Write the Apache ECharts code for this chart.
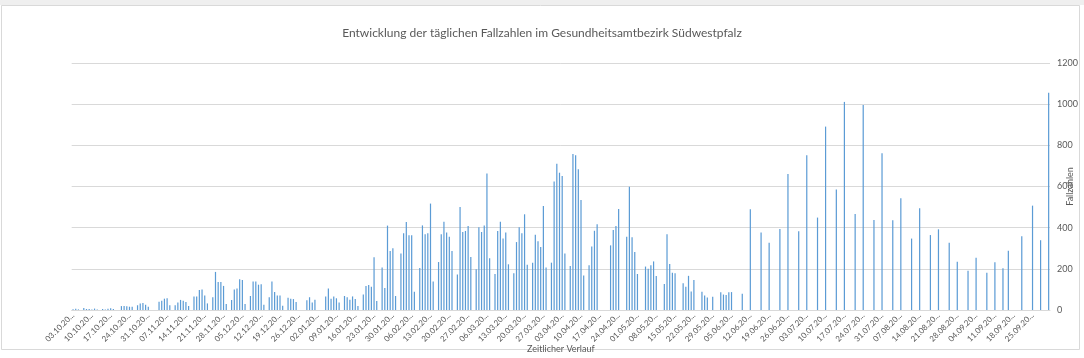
<!DOCTYPE html>
<html>
<head>
<meta charset="utf-8">
<script src="https://cdn.jsdelivr.net/npm/echarts@6/dist/echarts.min.js"></script>
<style>
html,body{margin:0;padding:0;background:#fff;}
#chart{width:1084px;height:358px;}
</style>
</head>
<body>
<div id="chart"></div>
<script>
// Chart texts
const titleText = 'Entwicklung der täglichen Fallzahlen im Gesundheitsamtbezirk Südwestpfalz';
const xAxisName = 'Zeitlicher Verlauf';
const yAxisName = 'Fallzahlen';

// Categories: one per day, starting 03.10.2020 (364 days)
const startDate = [2020, 10, 3];
const dayCount = 364;
const categories = [];
(function () {
  const d = new Date(Date.UTC(startDate[0], startDate[1] - 1, startDate[2]));
  for (let i = 0; i < dayCount; i++) {
    const dd = String(d.getUTCDate()).padStart(2, '0');
    const mm = String(d.getUTCMonth() + 1).padStart(2, '0');
    categories.push(dd + '.' + mm + '.' + d.getUTCFullYear());
    d.setUTCDate(d.getUTCDate() + 1);
  }
})();

// Daily case numbers (one row per week, starting Saturday 03.10.2020)
const fallzahlen = [
  4, 6, 3, 0, 10, 5, 5,
  2, 7, 3, 0, 5, 3, 6,
  8, 5, 0, 0, 19, 19, 18,
  16, 16, 0, 23, 31, 34, 26,
  16, 0, 0, 0, 40, 45, 55,
  57, 23, 0, 23, 36, 49, 45,
  39, 19, 0, 65, 66, 97, 100,
  71, 32, 0, 62, 185, 136, 136,
  117, 29, 0, 49, 100, 105, 149,
  146, 29, 0, 68, 139, 139, 123,
  125, 26, 0, 62, 139, 87, 70,
  70, 21, 0, 60, 55, 53, 39,
  0, 0, 0, 47, 62, 36, 50,
  0, 0, 0, 66, 105, 55, 65,
  57, 36, 0, 68, 62, 50, 66,
  53, 19, 0, 75, 117, 121, 113,
  256, 44, 0, 206, 107, 410, 287,
  300, 68, 0, 275, 373, 428, 363,
  363, 89, 0, 204, 411, 368, 373,
  517, 139, 0, 233, 368, 429, 377,
  356, 287, 0, 173, 501, 379, 384,
  408, 258, 0, 198, 402, 379, 411,
  663, 251, 0, 175, 384, 429, 347,
  376, 222, 0, 178, 330, 402, 373,
  465, 220, 0, 230, 366, 334, 306,
  505, 206, 0, 230, 624, 710, 667,
  651, 275, 0, 214, 758, 752, 684,
  535, 168, 0, 217, 308, 385, 416,
  0, 0, 0, 0, 314, 389, 408,
  491, 0, 0, 356, 599, 353, 282,
  175, 0, 0, 211, 200, 217, 236,
  165, 0, 0, 126, 368, 224, 181,
  178, 0, 0, 130, 113, 166, 90,
  146, 0, 0, 89, 71, 61, 0,
  64, 0, 0, 86, 75, 73, 86,
  87, 0, 0, 0, 79, 0, 0,
  489, 0, 0, 0, 377, 0, 0,
  327, 0, 0, 0, 394, 0, 0,
  661, 0, 0, 0, 382, 0, 0,
  752, 0, 0, 0, 449, 0, 0,
  891, 0, 0, 0, 586, 0, 0,
  1011, 0, 0, 0, 467, 0, 0,
  996, 0, 0, 0, 437, 0, 0,
  761, 0, 0, 0, 436, 0, 0,
  543, 0, 0, 0, 347, 0, 0,
  494, 0, 0, 0, 364, 0, 0,
  392, 0, 0, 0, 327, 0, 0,
  235, 0, 0, 0, 191, 0, 0,
  254, 0, 0, 0, 181, 0, 0,
  232, 0, 0, 203, 0, 288, 0,
  0, 0, 0, 358, 0, 0, 0,
  507, 0, 0, 339, 0, 0, 1056
];

// Y axis scale
const yMin = 0, yMax = 1200, yStep = 200;

const FONT = 'Lato, "Open Sans", sans-serif';
const TXT = '#595959';

const chart = echarts.init(document.getElementById('chart'), null, {renderer: 'canvas'});
chart.setOption({
  animation: false,
  backgroundColor: '#ffffff',
  textStyle: {fontFamily: FONT},
  graphic: [
    {type: 'rect', silent: true, z: -10, shape: {x: 0, y: 0, width: 1084, height: 5}, style: {fill: '#efefef'}},
    {type: 'rect', silent: true, z: -10, shape: {x: 1.5, y: 5.5, width: 1078, height: 344}, style: {fill: 'none', stroke: '#d9d9d9', lineWidth: 1}}
  ],
  title: {
    text: titleText,
    left: 'center',
    top: 22,
    textStyle: {fontFamily: FONT, fontSize: 12, fontWeight: 'normal', color: TXT}
  },
  grid: {left: 71.7, right: 34, top: 63, bottom: 48, containLabel: false, outerBoundsMode: 'none'},
  xAxis: {
    type: 'category',
    data: categories,
    boundaryGap: true,
    name: xAxisName,
    nameLocation: 'middle',
    nameGap: 35,
    nameMoveOverlap: false,
    nameTextStyle: {fontFamily: FONT, fontSize: 9, color: TXT},
    axisLine: {show: true, lineStyle: {color: '#d9d9d9', width: 1}},
    axisTick: {show: false},
    axisLabel: {
      interval: 6,
      rotate: 45,
      margin: 4,
      fontSize: 8,
      color: TXT,
      fontFamily: FONT,
      hideOverlap: false,
      formatter: function (v) { return v.slice(0, 8) + '...'; }
    },
    splitLine: {show: false}
  },
  yAxis: {
    type: 'value',
    position: 'right',
    min: yMin,
    max: yMax,
    interval: yStep,
    name: yAxisName,
    nameLocation: 'middle',
    nameGap: 16,
    nameRotate: 90,
    nameMoveOverlap: false,
    nameTextStyle: {fontFamily: FONT, fontSize: 9, color: TXT},
    axisLine: {show: false},
    axisTick: {show: false},
    axisLabel: {fontSize: 9, color: TXT, fontFamily: FONT, margin: 7, formatter: function (v) { return String(v); }},
    splitLine: {lineStyle: {color: '#d9d9d9', width: 1}}
  },
  series: [{
    type: 'bar',
    data: fallzahlen,
    barWidth: '45%',
    itemStyle: {color: '#5b9bd5'}
  }]
});
</script>
</body>
</html>
